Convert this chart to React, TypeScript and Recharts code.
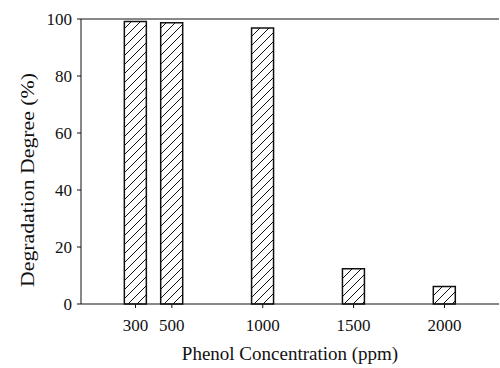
import { BarChart, Bar, XAxis, YAxis, ReferenceLine } from 'recharts';

document.body.style.margin = '0';

// values
const concentrations = [300, 500, 1000, 1500, 2000];
const degradation = [99.1, 98.7, 96.8, 12.4, 6.1];
const yTicks = [0, 20, 40, 60, 80, 100];

const data = concentrations.map((c, i) => ({ ppm: c, degree: degradation[i] }));

const FONT = '"Liberation Serif", "DejaVu Serif", serif';
const INK = '#111';

const YTitle = () => (
  <text
    x={28}
    y={180}
    transform="rotate(-90 28 180)"
    textAnchor="middle"
    dominantBaseline="central"
    fontFamily={FONT}
    fontSize={18}
    fill={INK}
    textLength={214}
    lengthAdjust="spacingAndGlyphs"
  >
    Degradation Degree (%)
  </text>
);

export default function App() {
  const tick = { fill: INK, fontSize: 17, fontFamily: FONT };
  return (
    <div style={{ width: 500, height: 368, background: '#fff' }}>
      <BarChart width={500} height={368} data={data} margin={{ top: 19, right: 1, left: 0, bottom: 0 }}>
        <defs>
          <pattern id="hatch" patternUnits="userSpaceOnUse" width={9} height={9}>
            <path d="M0,9 L9,0 M-2,2 L2,-2 M7,11 L11,7" stroke={INK} strokeWidth={1} />
          </pattern>
        </defs>
        <XAxis
          dataKey="ppm"
          type="number"
          domain={[0, 2300]}
          ticks={concentrations}
          height={64}
          tick={tick}
          tickSize={4}
          tickMargin={11}
          axisLine={{ stroke: INK, strokeWidth: 1 }}
          tickLine={{ stroke: INK }}
          label={{
            value: 'Phenol Concentration (ppm)',
            position: 'insideBottom',
            offset: 8,
            fill: INK,
            fontSize: 19,
            fontFamily: FONT,
          }}
        />
        <YAxis
          domain={[0, 100]}
          ticks={yTicks}
          width={81}
          tick={tick}
          tickSize={4}
          tickMargin={5}
          axisLine={{ stroke: INK, strokeWidth: 1 }}
          tickLine={{ stroke: INK }}
          label={<YTitle />}
        />
        <YAxis
          yAxisId="right"
          orientation="right"
          domain={[0, 100]}
          width={0}
          tick={false}
          tickLine={false}
          axisLine={{ stroke: INK, strokeWidth: 1 }}
        />
        <ReferenceLine y={100} stroke={INK} strokeWidth={1} />
        <Bar dataKey="degree" barSize={22} fill="url(#hatch)" stroke={INK} strokeWidth={1.5} isAnimationActive={false} />
      </BarChart>
    </div>
  );
}
